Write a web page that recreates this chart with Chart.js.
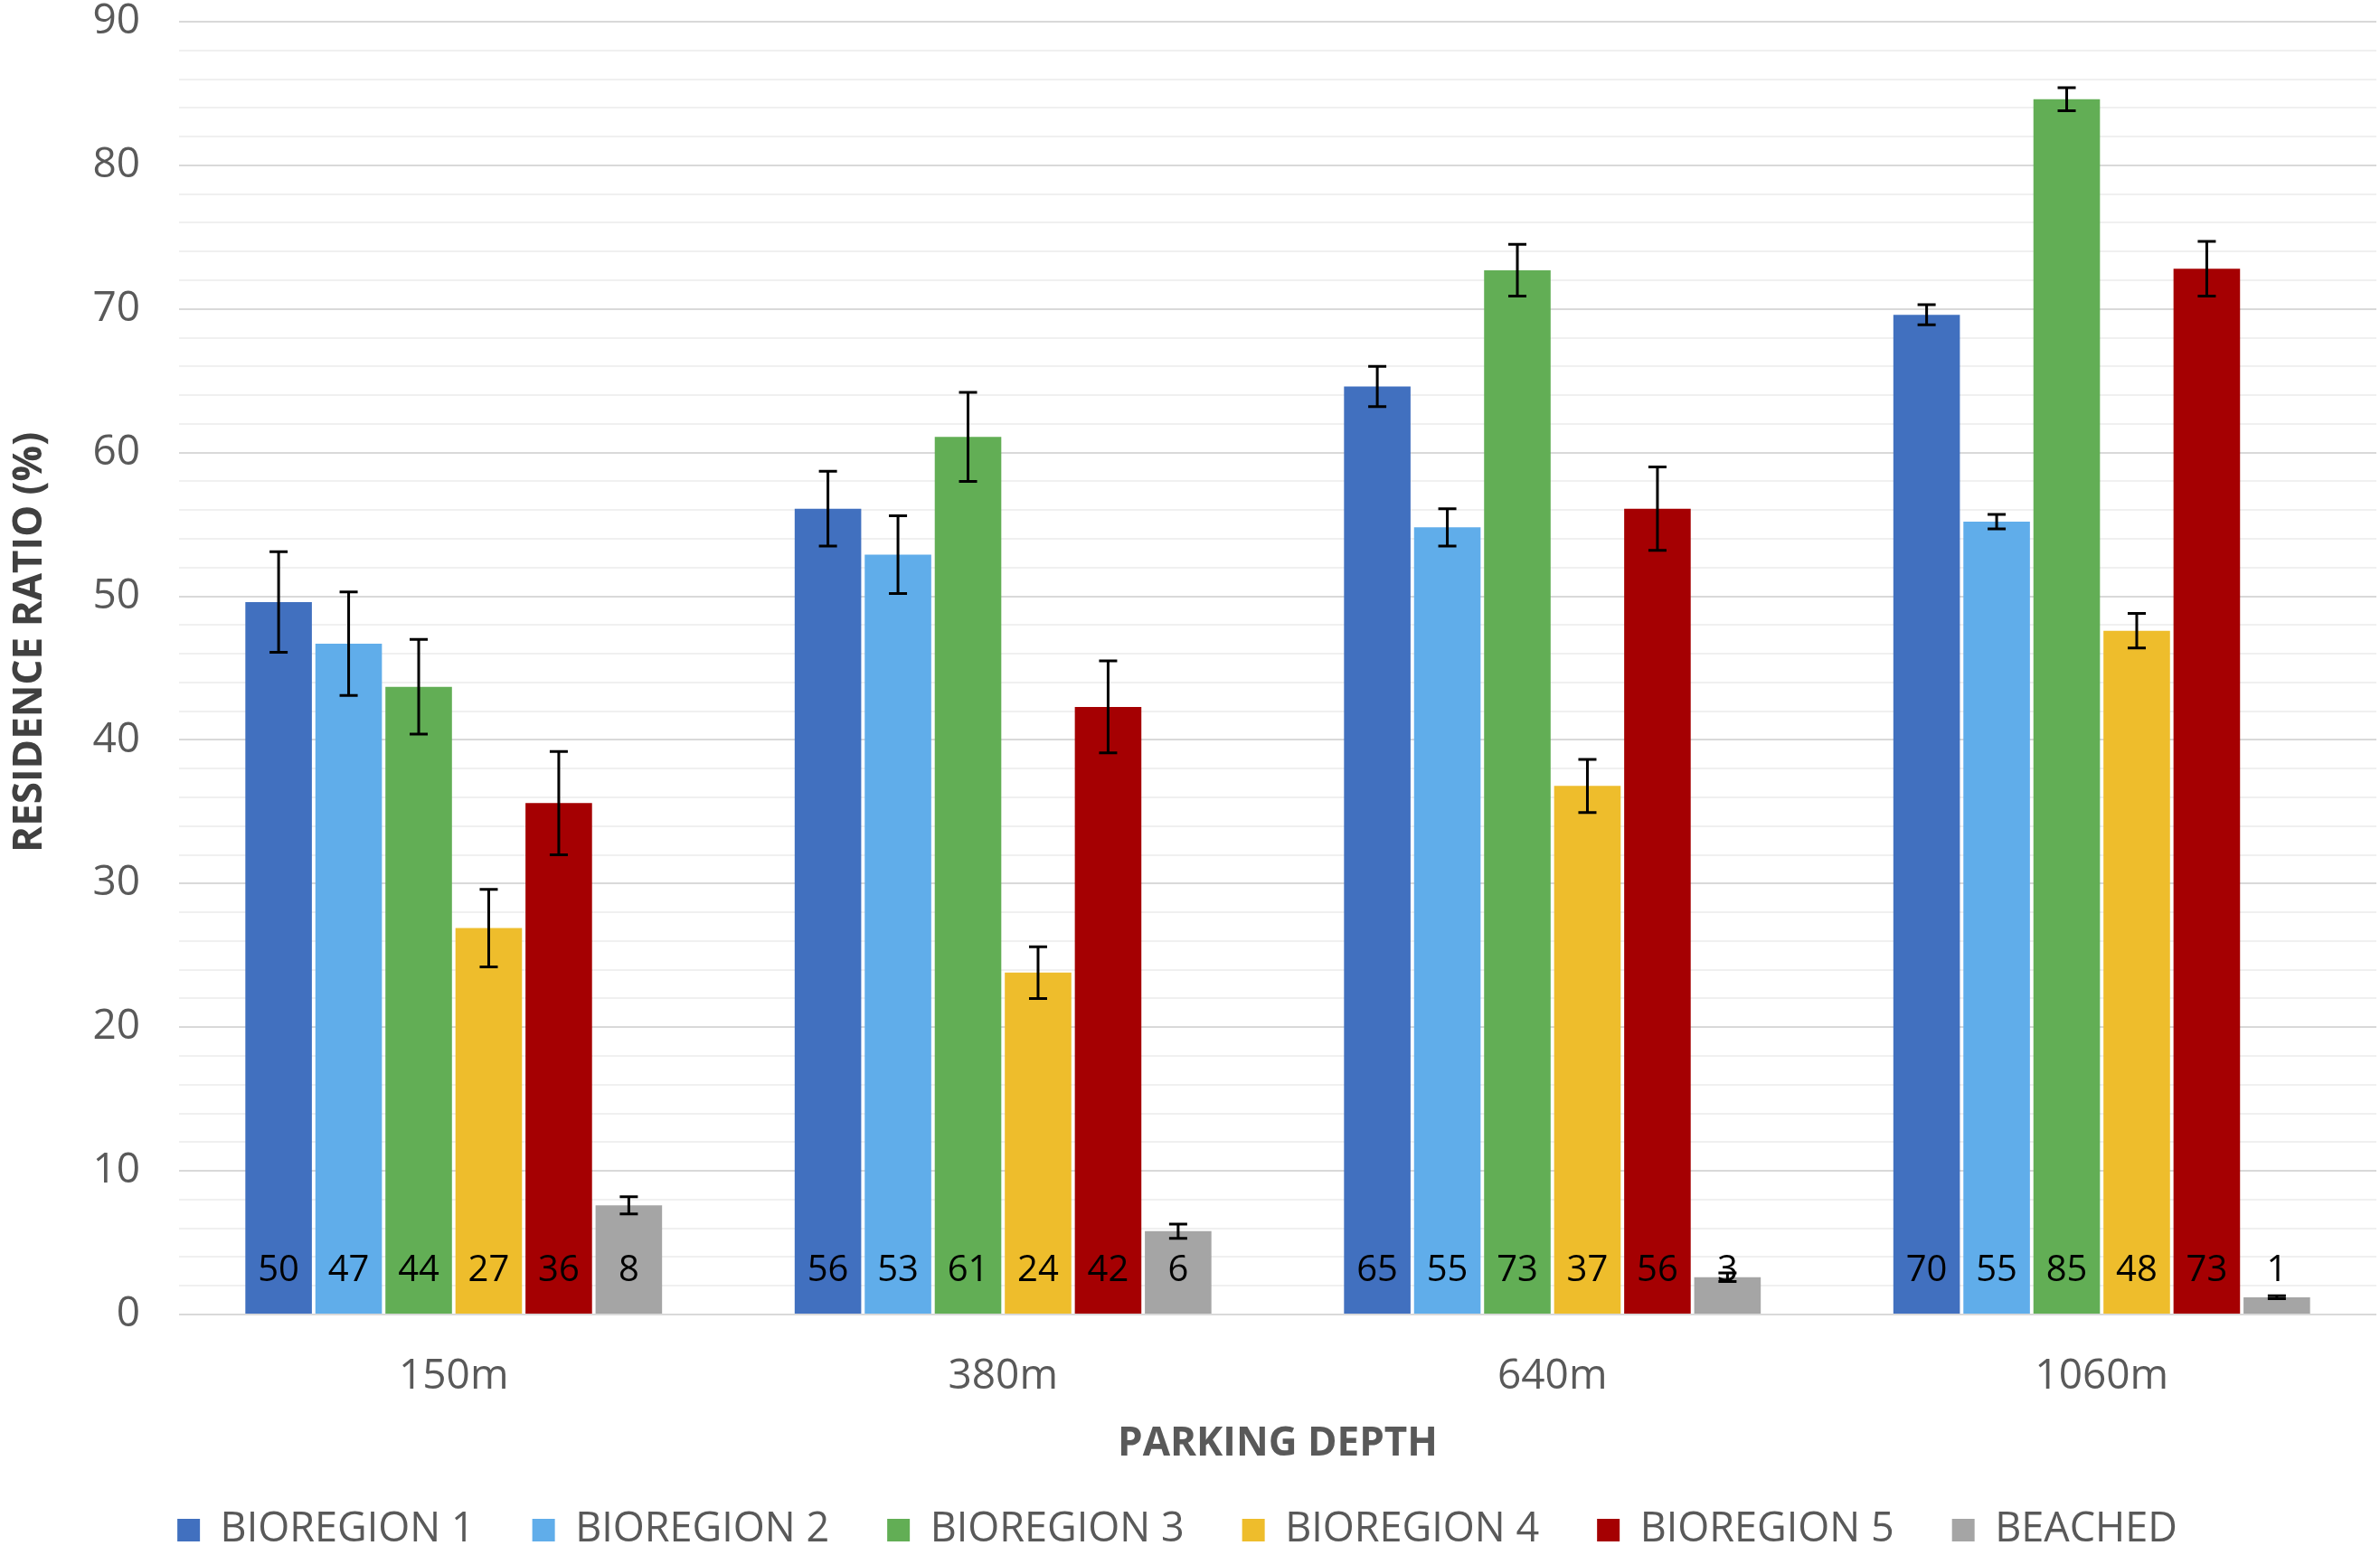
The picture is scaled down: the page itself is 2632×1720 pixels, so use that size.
<!DOCTYPE html>
<html>
<head>
<meta charset="utf-8">
<script src="https://cdn.jsdelivr.net/npm/chart.js@4/dist/chart.umd.min.js"></script>
<style>
  html, body { margin: 0; padding: 0; background: #ffffff; }
  #wrap { width: 2632px; height: 1720px; position: relative; }
  canvas { display: block; }
</style>
</head>
<body>
<div id="wrap"><canvas id="c" width="2632" height="1720"></canvas></div>
<script>
// ---- data ----
const categories = ['150m', '380m', '640m', '1060m'];
const seriesNames = ['BIOREGION 1', 'BIOREGION 2', 'BIOREGION 3', 'BIOREGION 4', 'BIOREGION 5', 'BEACHED'];
const bioregion1 = [49.6, 56.1, 64.6, 69.6];
const bioregion2 = [46.7, 52.9, 54.8, 55.2];
const bioregion3 = [43.7, 61.1, 72.7, 84.6];
const bioregion4 = [26.9, 23.8, 36.8, 47.6];
const bioregion5 = [35.6, 42.3, 56.1, 72.8];
const beached    = [7.6, 5.8, 2.6, 1.2];
const err1 = [3.5, 2.6, 1.4, 0.7];
const err2 = [3.6, 2.7, 1.3, 0.5];
const err3 = [3.3, 3.1, 1.8, 0.8];
const err4 = [2.7, 1.8, 1.85, 1.2];
const err5 = [3.6, 3.2, 2.9, 1.9];
const errB = [0.6, 0.5, 0.3, 0.1];
const yTicks = [0, 10, 20, 30, 40, 50, 60, 70, 80, 90];

const colors = ['#4170BF', '#60ADEA', '#62AE55', '#EEBD2C', '#A50002', '#A5A5A5'];
const seriesValues = [bioregion1, bioregion2, bioregion3, bioregion4, bioregion5, beached];
const seriesErrors = [err1, err2, err3, err4, err5, errB];

const FONT = "'Open Sans', 'DejaVu Sans', sans-serif";
const TEXT = '#595959';

const legendShift = {
  id: 'legendShift',
  afterLayout(chart) {
    if (chart.legend) { chart.legend.left -= 12; chart.legend.right -= 12; }
  }
};

const errorBarPlugin = {
  id: 'errorBars',
  afterDatasetsDraw(chart) {
    const ctx = chart.ctx;
    const y = chart.scales.y;
    ctx.save();
    // value labels inside base
    ctx.font = '40px ' + FONT;
    ctx.fillStyle = '#000000';
    ctx.textAlign = 'center';
    ctx.textBaseline = 'middle';
    chart.data.datasets.forEach((ds, i) => {
      const meta = chart.getDatasetMeta(i);
      meta.data.forEach((bar, j) => {
        ctx.fillText(String(Math.round(ds.data[j])), bar.x, y.bottom - 48);
      });
    });
    // error bars
    ctx.strokeStyle = '#000000';
    ctx.lineWidth = 3;
    chart.data.datasets.forEach((ds, i) => {
      const meta = chart.getDatasetMeta(i);
      meta.data.forEach((bar, j) => {
        const v = ds.data[j], e = ds.errors[j];
        const yt = y.getPixelForValue(v + e);
        const yb = y.getPixelForValue(v - e);
        const x = bar.x, cw = 10;
        ctx.beginPath();
        ctx.moveTo(x, yt); ctx.lineTo(x, yb);
        ctx.moveTo(x - cw, yt); ctx.lineTo(x + cw, yt);
        ctx.moveTo(x - cw, yb); ctx.lineTo(x + cw, yb);
        ctx.stroke();
      });
    });
    ctx.restore();
  }
};

new Chart(document.getElementById('c'), {
  type: 'bar',
  data: {
    labels: categories,
    datasets: seriesNames.map((name, i) => ({
      label: name,
      data: seriesValues[i],
      errors: seriesErrors[i],
      backgroundColor: colors[i],
      borderWidth: 0,
      categoryPercentage: 0.765,
      barPercentage: 0.95
    }))
  },
  options: {
    responsive: false,
    animation: false,
    devicePixelRatio: 1,
    layout: { padding: { left: 0, right: 4, top: 0, bottom: -5 } },
    plugins: {
      tooltip: { enabled: false },
      legend: {
        position: 'bottom',
        labels: {
          boxWidth: 25, boxHeight: 25, padding: 64,
          color: TEXT,
          font: { family: FONT, size: 45 }
        }
      }
    },
    scales: {
      x: {
        grid: { display: false, drawTicks: false },
        border: { display: false },
        ticks: { color: TEXT, font: { family: FONT, size: 46 }, padding: 41 },
        title: {
          display: true, text: 'PARKING DEPTH', color: TEXT,
          font: { family: FONT, size: 44, weight: 'bold', lineHeight: 1 },
          padding: { top: 0, bottom: -13 }
        },
        afterFit(scale) { scale.height = 152; }
      },
      y: {
        min: 0, max: 90,
        ticks: {
          stepSize: 2, autoSkip: false, color: TEXT, padding: 43,
          font: { family: FONT, size: 46, lineHeight: 1 },
          callback: (v) => (yTicks.includes(v) ? String(v) : '')
        },
        grid: {
          drawTicks: false,
          lineWidth: 2,
          color: (c) => (c.tick && yTicks.includes(c.tick.value) ? '#D9D9D9' : '#F0F0F0')
        },
        border: { display: false },
        title: {
          display: true, text: '     RESIDENCE RATIO (%)', color: '#404040',
          font: { family: FONT, size: 44, weight: 'bold', lineHeight: 1 },
          padding: { top: 11, bottom: 0 }
        },
        afterFit(scale) { scale.width = 198; scale.paddingTop = 24; }
      }
    }
  },
  plugins: [errorBarPlugin, legendShift]
});
</script>
</body>
</html>
